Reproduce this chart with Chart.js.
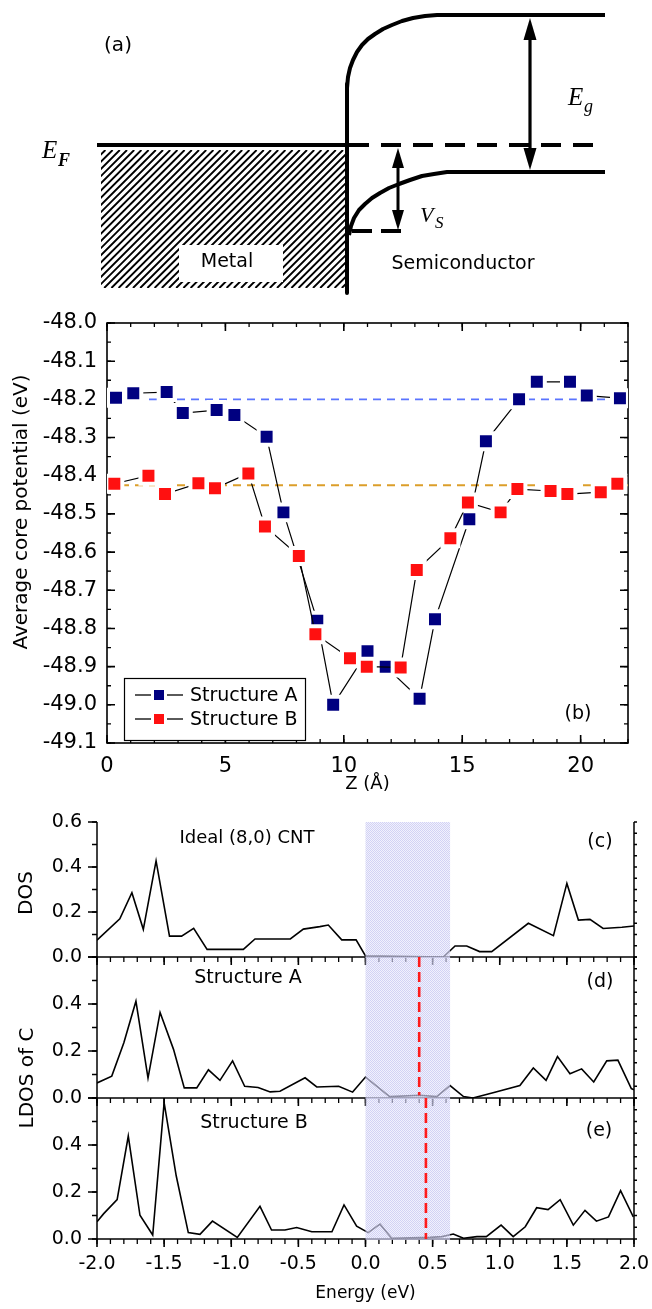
<!DOCTYPE html>
<html><head><meta charset="utf-8">
<script src="https://cdn.jsdelivr.net/npm/chart.js@4.4.1/dist/chart.umd.min.js"></script>
<style>
html,body{margin:0;padding:0;background:#fff;}
#wrap{position:relative;width:652px;height:1309px;overflow:hidden;background:#fff;}
#wrap canvas{position:absolute;left:0;top:0;}
</style></head><body>
<div id="wrap">
<canvas id="cA" width="652" height="1309"></canvas>
<canvas id="cB" width="652" height="1309"></canvas>
<canvas id="cC" width="652" height="1309"></canvas>
<canvas id="cD" width="652" height="1309"></canvas>
<canvas id="cE" width="652" height="1309"></canvas>
</div>
<script>
// ---------- (a) band diagram geometry (sketch units) ----------
const bandMetal = [[97,145],[347,145]];
const bandInterface = [[347,84],[347,293]];
const bandCB = [[347,88],[348,77],[350,68],[353,60],[357,52],[362,45],[368,39],[375,34],[383,29],[392,25],[402,21],[413,18],[425,16],[437,15],[450,15],[605,15]];
const bandVB = [[349,235],[351,226],[354,218],[359,210],[365,204],[372,198],[380,193],[389,188],[399,184],[410,180],[422,176],[434,174],[447,172],[605,172]];
const bandEFdash = [[349,145],[605,145]];
const bandVsDash = [[352,231],[403,231]];
const arrowVs = [398,148,230];
const arrowEg = [530,18,170];
const metalRect = [101,150,346,288];
const metalLabelBox = [179,245,283,282];

// ---------- (b) average core potential ----------
const zA   = [0.38,1.11,2.52,3.20,4.63,5.38,6.74,7.45,8.88,9.55,11.00,11.77,13.20,13.85,15.30,16.00,17.40,18.15,19.55,20.26,21.66];
const potA = [-48.196,-48.184,-48.181,-48.236,-48.228,-48.241,-48.298,-48.496,-48.780,-49.000,-48.860,-48.900,-48.984,-48.776,-48.514,-48.310,-48.200,-48.154,-48.154,-48.190,-48.197];
const zB   = [0.31,1.75,2.45,3.86,4.56,5.97,6.67,8.10,8.80,10.26,10.97,12.40,13.08,14.50,15.24,16.62,17.33,18.73,19.44,20.85,21.55];
const potB = [-48.421,-48.400,-48.448,-48.420,-48.433,-48.394,-48.533,-48.610,-48.815,-48.878,-48.900,-48.902,-48.647,-48.564,-48.470,-48.496,-48.435,-48.440,-48.448,-48.443,-48.421];
const refA = -48.20, refB = -48.425;
const zTicks = [0,5,10,15,20];
const potTicks = [-49.1,-49.0,-48.9,-48.8,-48.7,-48.6,-48.5,-48.4,-48.3,-48.2,-48.1,-48.0];
const seriesNames = ['Structure A','Structure B'];

// ---------- (c)(d)(e) DOS ----------
const eC   = [-2.0,-1.83,-1.74,-1.655,-1.56,-1.46,-1.37,-1.28,-1.18,-0.91,-0.823,-0.56,-0.463,-0.34,-0.277,-0.177,-0.07,0.0,0.58,0.667,0.754,0.85,0.94,1.213,1.40,1.50,1.586,1.672,1.77,1.91,2.0];
const dosC = [0.075,0.170,0.286,0.123,0.427,0.093,0.093,0.127,0.034,0.034,0.080,0.080,0.124,0.135,0.142,0.076,0.076,0.005,0.0,0.049,0.049,0.024,0.024,0.150,0.095,0.327,0.164,0.167,0.127,0.132,0.138];
const eD   = [-2.0,-1.89,-1.80,-1.71,-1.62,-1.53,-1.43,-1.35,-1.257,-1.17,-1.084,-0.99,-0.90,-0.80,-0.71,-0.637,-0.45,-0.363,-0.20,-0.096,0.0,0.18,0.405,0.53,0.63,0.73,0.80,0.95,1.15,1.25,1.345,1.43,1.523,1.61,1.70,1.797,1.88,1.98,2.0];
const dosD = [0.064,0.093,0.235,0.412,0.085,0.364,0.207,0.043,0.043,0.120,0.075,0.158,0.050,0.045,0.026,0.029,0.086,0.047,0.050,0.025,0.089,0.006,0.012,0.006,0.053,0.006,0.0,0.022,0.053,0.128,0.075,0.176,0.103,0.124,0.068,0.158,0.161,0.040,0.035];
const eE   = [-2.0,-1.95,-1.85,-1.767,-1.68,-1.585,-1.50,-1.41,-1.32,-1.233,-1.14,-0.955,-0.786,-0.70,-0.60,-0.513,-0.40,-0.25,-0.16,-0.066,0.02,0.108,0.195,0.48,0.57,0.654,0.73,0.83,0.90,1.01,1.10,1.19,1.275,1.36,1.45,1.548,1.635,1.72,1.81,1.90,1.995];
const dosE = [0.073,0.108,0.168,0.438,0.101,0.017,0.580,0.269,0.027,0.020,0.076,0.007,0.139,0.038,0.038,0.049,0.031,0.031,0.145,0.055,0.027,0.063,0.003,0.007,0.010,0.021,0.003,0.010,0.010,0.059,0.010,0.052,0.133,0.125,0.167,0.059,0.122,0.076,0.094,0.206,0.094];
const gapRange = [0.0, 0.63];
const fermiA = 0.40, fermiB = 0.45;
const energyTicks = [-2.0,-1.5,-1.0,-0.5,0.0,0.5,1.0,1.5,2.0];
const dosTicksTop = [0.0,0.2,0.4,0.6];
const dosTicks = [0.0,0.2,0.4];

// ---------- helpers ----------
const SANS = "'DejaVu Sans', 'Liberation Sans', sans-serif";
const SERIF = "'Liberation Serif', 'DejaVu Serif', serif";
Chart.defaults.font.family = SANS;
Chart.defaults.color = '#000';
const pts = arr => arr.map(p => ({x:p[0], y:p[1]}));
const xy = (xs, ys) => xs.map((v,i) => ({x:v, y:ys[i]}));
function steps(a, b, st){ const o=[]; const n=Math.round((b-a)/st); for(let i=0;i<=n;i++) o.push(+(a+i*st).toFixed(6)); return o; }
function txt(ctx, s, x, y, font, align, base, rot){
  ctx.save(); ctx.translate(x,y); if(rot) ctx.rotate(rot);
  ctx.font=font; ctx.fillStyle='#000'; ctx.textAlign=align||'center'; ctx.textBaseline=base||'middle';
  ctx.fillText(s,0,0); ctx.restore();
}
function marks(ctx, scale, vals, fixed, len, dir, lw){
  ctx.save(); ctx.strokeStyle='#000'; ctx.lineWidth=lw||1.3; ctx.beginPath();
  vals.forEach(v=>{ const p=scale.getPixelForValue(v);
    if(scale.isHorizontal()){ ctx.moveTo(p,fixed); ctx.lineTo(p,fixed+dir*len); }
    else { ctx.moveTo(fixed,p); ctx.lineTo(fixed+dir*len,p); } });
  ctx.stroke(); ctx.restore();
}
function line(ctx, x0,y0,x1,y1,lw){ ctx.save(); ctx.strokeStyle='#000'; ctx.lineWidth=lw; ctx.beginPath(); ctx.moveTo(x0,y0); ctx.lineTo(x1,y1); ctx.stroke(); ctx.restore(); }
const zeroPad = s => { s.paddingLeft=0; s.paddingRight=0; s.paddingTop=0; s.paddingBottom=0; };
const fixW = w => s => { s.width = w; zeroPad(s); };
const fixH = h => s => { s.height = h; zeroPad(s); };
const setTicks = vals => s => { s.ticks = vals.map(v=>({value:v})); };
const base = (pad) => ({responsive:false, animation:false, devicePixelRatio:1, events:[],
  layout:{padding:pad, autoPadding:false}, plugins:{legend:{display:false}, tooltip:{enabled:false}}});

// ---------- chart (a) ----------
function arrowV(ctx, x, y0, y1, hl, hw, lw){
  ctx.save(); ctx.fillStyle='#000'; ctx.strokeStyle='#000'; ctx.lineWidth=lw;
  ctx.beginPath(); ctx.moveTo(x,y0+hl-2); ctx.lineTo(x,y1-hl+2); ctx.stroke();
  ctx.beginPath(); ctx.moveTo(x,y0); ctx.lineTo(x-hw/2,y0+hl); ctx.lineTo(x+hw/2,y0+hl); ctx.closePath(); ctx.fill();
  ctx.beginPath(); ctx.moveTo(x,y1); ctx.lineTo(x-hw/2,y1-hl); ctx.lineTo(x+hw/2,y1-hl); ctx.closePath(); ctx.fill();
  ctx.restore();
}
const diagPlugin = {id:'diag',
  beforeDatasetsDraw(chart){
    const {ctx, scales:{x,y}} = chart; const X=v=>x.getPixelForValue(v), Y=v=>y.getPixelForValue(v);
    const [a,b,c,d] = metalRect;
    ctx.save(); ctx.beginPath(); ctx.rect(X(a),Y(b),X(c)-X(a),Y(d)-Y(b)); ctx.clip();
    ctx.strokeStyle='#000'; ctx.lineWidth=1.9; ctx.beginPath();
    const h = Y(d)-Y(b);
    for(let s=X(a)-h-10; s<X(c)+10; s+=7.2){ ctx.moveTo(s,Y(d)); ctx.lineTo(s+h,Y(b)); }
    ctx.stroke();
    const [e,f,g,k] = metalLabelBox;
    ctx.fillStyle='#fff'; ctx.fillRect(X(e),Y(f),X(g)-X(e),Y(k)-Y(f));
    ctx.restore();
  },
  afterDatasetsDraw(chart){
    const {ctx, scales:{x,y}} = chart; const X=v=>x.getPixelForValue(v), Y=v=>y.getPixelForValue(v);
    arrowV(ctx, X(arrowVs[0]), Y(arrowVs[1]), Y(arrowVs[2]), 20, 12, 3);
    arrowV(ctx, X(arrowEg[0]), Y(arrowEg[1]), Y(arrowEg[2]), 22, 13, 3.2);
    txt(ctx,'(a)',118,46,"20px "+SANS);
    txt(ctx,'Metal',227,262,"19px "+SANS);
    txt(ctx,'Semiconductor',463,264,"19px "+SANS);
    txt(ctx,'E',42,158,"italic 25px "+SERIF,'left','alphabetic');
    txt(ctx,'F',58,166,"bold italic 18px "+SERIF,'left','alphabetic');
    txt(ctx,'E',568,105,"italic 25px "+SERIF,'left','alphabetic');
    txt(ctx,'g',584,112,"italic 18px "+SERIF,'left','alphabetic');
    txt(ctx,'V',420,222,"italic 22px "+SERIF,'left','alphabetic');
    txt(ctx,'S',435,228,"italic 17px "+SERIF,'left','alphabetic');
  }
};
const lineDs = (arr, extra) => Object.assign({data:pts(arr), showLine:true, borderColor:'#000', borderWidth:4, pointRadius:0, borderCapStyle:'butt', borderJoinStyle:'round'}, extra||{});
new Chart(document.getElementById('cA'), {
  type:'scatter',
  data:{datasets:[
    lineDs(bandMetal), lineDs(bandInterface),
    lineDs(bandCB), lineDs(bandVB),
    lineDs(bandEFdash,{borderDash:[20,12]}),
    lineDs(bandVsDash,{borderDash:[20,9]})
  ]},
  options: Object.assign(base({left:0,top:0,right:0,bottom:1009}), {
    scales:{ x:{type:'linear',min:0,max:652,display:false}, y:{type:'linear',min:0,max:300,reverse:true,display:false} }
  }),
  plugins:[diagPlugin]
});

// ---------- chart (b) ----------
const colA = '#000080', colB = '#ff1010';
const bPlugin = {id:'bframe',
  beforeDatasetsDraw(chart){
    const {ctx, chartArea:ca, scales:{x,y}} = chart;
    ctx.save(); ctx.strokeStyle='#000'; ctx.lineWidth=1.6; ctx.strokeRect(ca.left,ca.top,ca.right-ca.left,ca.bottom-ca.top); ctx.restore();
    const minX = steps(0,22,1), majX = steps(0,20,5);
    marks(ctx,x,minX,ca.bottom,4,-1); marks(ctx,x,majX,ca.bottom,8,-1,1.6);
    marks(ctx,x,minX,ca.top,4,1); marks(ctx,x,majX,ca.top,8,1,1.6);
    const minY = steps(-49.1,-48.0,0.05), majY = potTicks;
    marks(ctx,y,minY,ca.left,4,1); marks(ctx,y,majY,ca.left,8,1,1.6);
    marks(ctx,y,minY,ca.right,4,-1); marks(ctx,y,majY,ca.right,8,-1,1.6);
    txt(ctx,'Average core potential (eV)',22,512,"20px "+SANS,'center','middle',-Math.PI/2);
  },
  afterDatasetsDraw(chart){
    const {ctx} = chart;
    ctx.save(); ctx.fillStyle='#fff'; ctx.fillRect(124,678,182,63);
    ctx.strokeStyle='#000'; ctx.lineWidth=1.2; ctx.strokeRect(124.5,678.5,181,62); ctx.restore();
    [[colA,695],[colB,719]].forEach((r,i)=>{
      line(ctx,135,r[1],151,r[1],1.3); line(ctx,167,r[1],183,r[1],1.3);
      ctx.save(); ctx.fillStyle=r[0]; ctx.fillRect(154,r[1]-5,10,10); ctx.restore();
      txt(ctx,seriesNames[i],190,r[1]+1,"19px "+SANS,'left','middle');
    });
    txt(ctx,'(b)',578,714,"19px "+SANS);
  }
};
new Chart(document.getElementById('cB'), {
  type:'scatter',
  data:{datasets:[
    {label:seriesNames[0], data:xy(zA,potA), showLine:true, borderColor:'#000', borderWidth:1.2, pointStyle:'rect', pointRadius:11.3,
     pointBackgroundColor:colA, pointBorderColor:'#fff', pointBorderWidth:4, order:2},
    {label:seriesNames[1], data:xy(zB,potB), showLine:true, borderColor:'#000', borderWidth:1.2, pointStyle:'rect', pointRadius:11.3,
     pointBackgroundColor:colB, pointBorderColor:'#fff', pointBorderWidth:4, order:1},
    {label:'refA', data:[{x:0,y:refA},{x:22,y:refA}], showLine:true, borderColor:'#5a74ff', borderDash:[8,6], borderWidth:1.8, pointRadius:0, order:5},
    {label:'refB', data:[{x:0,y:refB},{x:22,y:refB}], showLine:true, borderColor:'#dc9e2a', borderDash:[8,6], borderWidth:1.8, pointRadius:0, order:6}
  ]},
  options: Object.assign(base({left:0,top:323,right:24,bottom:509}), {
    scales:{
      x:{type:'linear',min:0,max:22,grid:{display:false,drawTicks:false},border:{display:false},
         ticks:{padding:11,font:{size:21},color:'#000',callback:v=>String(v)},
         afterBuildTicks:setTicks(zTicks), afterFit:fixH(57),
         title:{display:true,text:'Z (Å)',font:{size:18},color:'#000',padding:{top:0,bottom:5}}},
      y:{type:'linear',min:-49.1,max:-48.0,grid:{display:false,drawTicks:false},border:{display:false},
         ticks:{padding:10,font:{size:21},color:'#000',callback:v=>Number(v).toFixed(1)},
         afterBuildTicks:setTicks(potTicks), afterFit:fixW(107)}
    }
  }),
  plugins:[bPlugin]
});

// ---------- charts (c)(d)(e) ----------
const pc = document.createElement('canvas'); pc.width=2; pc.height=2;
(function(){ const g=pc.getContext('2d');
  g.fillStyle='rgba(195,195,240,0.75)'; g.fillRect(0,0,1,1); g.fillRect(1,1,1,1);
  g.fillStyle='rgba(232,232,252,0.6)'; g.fillRect(1,0,1,1); g.fillRect(0,1,1,1); })();
function dosPlugin(label, extra){
  return {id:'dos'+label,
    beforeDatasetsDraw(chart){
      const {ctx, chartArea:ca, scales:{x,y}} = chart;
      line(ctx,ca.left,ca.top,ca.left,ca.bottom,1.5);
      line(ctx,ca.right,ca.top,ca.right,ca.bottom,1.5);
      line(ctx,ca.left,ca.bottom,ca.right,ca.bottom,1.5);
      marks(ctx,x,steps(-2,2,0.1),ca.bottom,5,1); marks(ctx,x,steps(-2,2,0.5),ca.bottom,8,1,1.6);
      marks(ctx,y,steps(0,0.6,0.1),ca.left,5,-1); marks(ctx,y,steps(0,0.6,0.2),ca.left,9,-1,1.6);
      marks(ctx,y,steps(0,0.6,0.05),ca.right,3,1);
    },
    afterDatasetDraw(chart,args){
      if(args.index!==0) return;
      const {ctx, chartArea:ca, scales:{x}} = chart;
      const x0=x.getPixelForValue(gapRange[0]), x1=x.getPixelForValue(gapRange[1]);
      ctx.save(); ctx.fillStyle=ctx.createPattern(pc,'repeat'); ctx.fillRect(x0,ca.top,x1-x0,ca.bottom-ca.top+1); ctx.restore();
    },
    afterDatasetsDraw(chart){ extra(chart.ctx); }
  };
}
function dosChart(id, es, vs, pad, yTicks, showX, fermi, label, extra){
  const ds = [{data:xy(es,vs), showLine:true, borderColor:'#000', borderWidth:1.6, pointRadius:0, order:2}];
  if(fermi!==null) ds.push({data:[{x:fermi,y:0.6},{x:fermi,y:label==='d'?0.012:0}], showLine:true, borderColor:'#ff1a1a', borderWidth:2.6, borderDash:[10,5], pointRadius:0, order:1});
  return new Chart(document.getElementById(id), {
    type:'scatter', data:{datasets:ds},
    options: Object.assign(base(pad), {
      scales:{
        x:{type:'linear',min:-2,max:2,grid:{display:false,drawTicks:false},border:{display:false},
           ticks:{display:showX,padding:14,font:{size:19},color:'#000',callback:v=>Number(v).toFixed(1)},
           afterBuildTicks:setTicks(energyTicks), afterFit:fixH(showX?70:0),
           title:{display:showX,text:'Energy (eV)',font:{size:17},color:'#000',padding:{top:0,bottom:5}}},
        y:{type:'linear',min:0,max:0.6,grid:{display:false,drawTicks:false},border:{display:false},
           ticks:{padding:15,font:{size:19},color:'#000',callback:v=>Number(v).toFixed(1)},
           afterBuildTicks:setTicks(yTicks), afterFit:fixW(97)}
      }
    }),
    plugins:[dosPlugin(label, extra)]
  });
}
dosChart('cC', eC, dosC, {left:0,top:822,right:18,bottom:352}, dosTicksTop, false, null, 'c', ctx=>{
  txt(ctx,'Ideal (8,0) CNT',247,838,"18px "+SANS);
  txt(ctx,'(c)',600,842,"19px "+SANS);
  txt(ctx,'DOS',27,893,"20px "+SANS,'center','middle',-Math.PI/2);
});
dosChart('cD', eD, dosD, {left:0,top:957,right:18,bottom:211}, dosTicks, false, fermiA, 'd', ctx=>{
  txt(ctx,'Structure A',248,978,"19px "+SANS);
  txt(ctx,'(d)',600,982,"19px "+SANS);
  txt(ctx,'LDOS of C',28,1078,"20px "+SANS,'center','middle',-Math.PI/2);
});
dosChart('cE', eE, dosE, {left:0,top:1098,right:18,bottom:0}, dosTicks, true, fermiB, 'e', ctx=>{
  txt(ctx,'Structure B',254,1123,"19px "+SANS);
  txt(ctx,'(e)',599,1131,"19px "+SANS);
});
</script>
</body></html>
